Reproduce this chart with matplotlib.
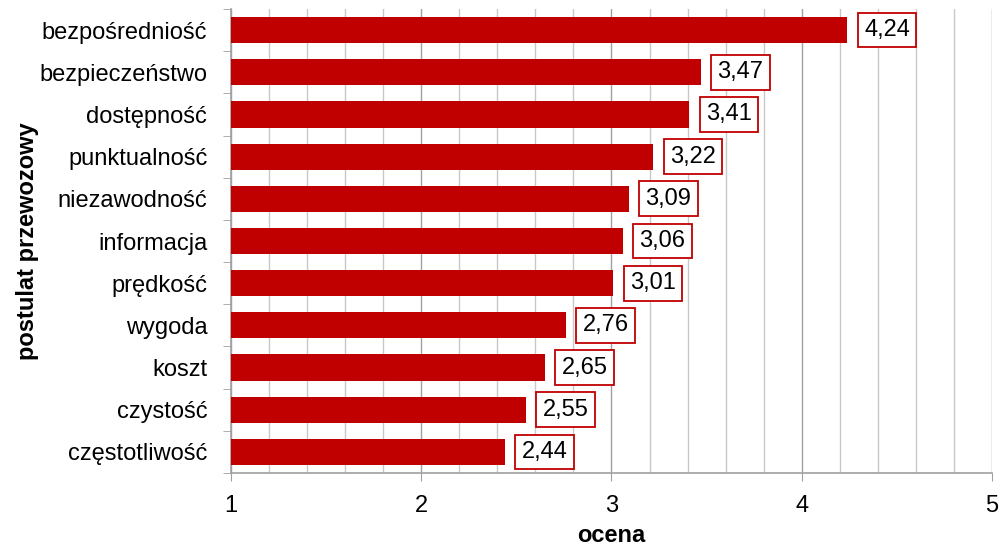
import matplotlib.pyplot as plt
from matplotlib.ticker import MultipleLocator, FixedLocator, NullFormatter

plt.rcParams['font.family'] = ['Liberation Sans', 'DejaVu Sans']

categories = ['bezpośredniość', 'bezpieczeństwo', 'dostępność', 'punktualność',
              'niezawodność', 'informacja', 'prędkość', 'wygoda', 'koszt',
              'czystość', 'częstotliwość']
values = [4.24, 3.47, 3.41, 3.22, 3.09, 3.06, 3.01, 2.76, 2.65, 2.55, 2.44]
labels = ['4,24', '3,47', '3,41', '3,22', '3,09', '3,06', '3,01', '2,76', '2,65', '2,55', '2,44']

red = '#C00000'
fs = 17

fig = plt.figure(figsize=(10.02, 5.52), dpi=100)
ax = fig.add_axes([0.2305, 0.1431, 0.7595, 0.8406])

n = len(categories)
ypos = [n - 1 - i for i in range(n)]
ax.barh(ypos, [v - 1 for v in values], left=1, height=0.62, color=red, zorder=3)

for y, v, lab in zip(ypos, values, labels):
    ax.annotate(lab, (v, y), xytext=(12, 0), textcoords='offset points',
                ha='left', va='center', fontsize=fs, zorder=4,
                bbox=dict(boxstyle='square,pad=0.27', fc='white', ec=red, lw=1.3))

ax.set_xlim(1, 5)
ax.set_ylim(-0.5, n - 0.5)

ax.xaxis.set_major_locator(MultipleLocator(1))
ax.xaxis.set_minor_locator(MultipleLocator(0.2))
ax.grid(which='minor', axis='x', color='#C8C8C8', lw=1, zorder=0)
ax.grid(which='major', axis='x', color='#A0A0A0', lw=1, zorder=0)
ax.tick_params(axis='x', which='major', length=6, color='#A0A0A0', labelsize=fs, pad=10)
ax.tick_params(axis='x', which='minor', length=0)

ax.set_yticks(ypos)
ax.set_yticklabels(categories)
ax.yaxis.set_minor_locator(FixedLocator([i - 0.5 for i in range(n + 1)]))
ax.yaxis.set_minor_formatter(NullFormatter())
ax.tick_params(axis='y', which='major', length=0, labelsize=fs, pad=17)
ax.tick_params(axis='y', which='minor', length=6, color='#A0A0A0')

for s in ['top', 'right']:
    ax.spines[s].set_visible(False)
for s in ['left', 'bottom']:
    ax.spines[s].set_color('#A0A0A0')
    ax.spines[s].set_linewidth(1.2)

ax.set_xlabel('ocena', fontsize=fs, fontweight='bold', labelpad=5)
ax.set_ylabel('postulat przewozowy', fontsize=fs, fontweight='bold', labelpad=0)

fig.savefig('out.png', dpi=100)
